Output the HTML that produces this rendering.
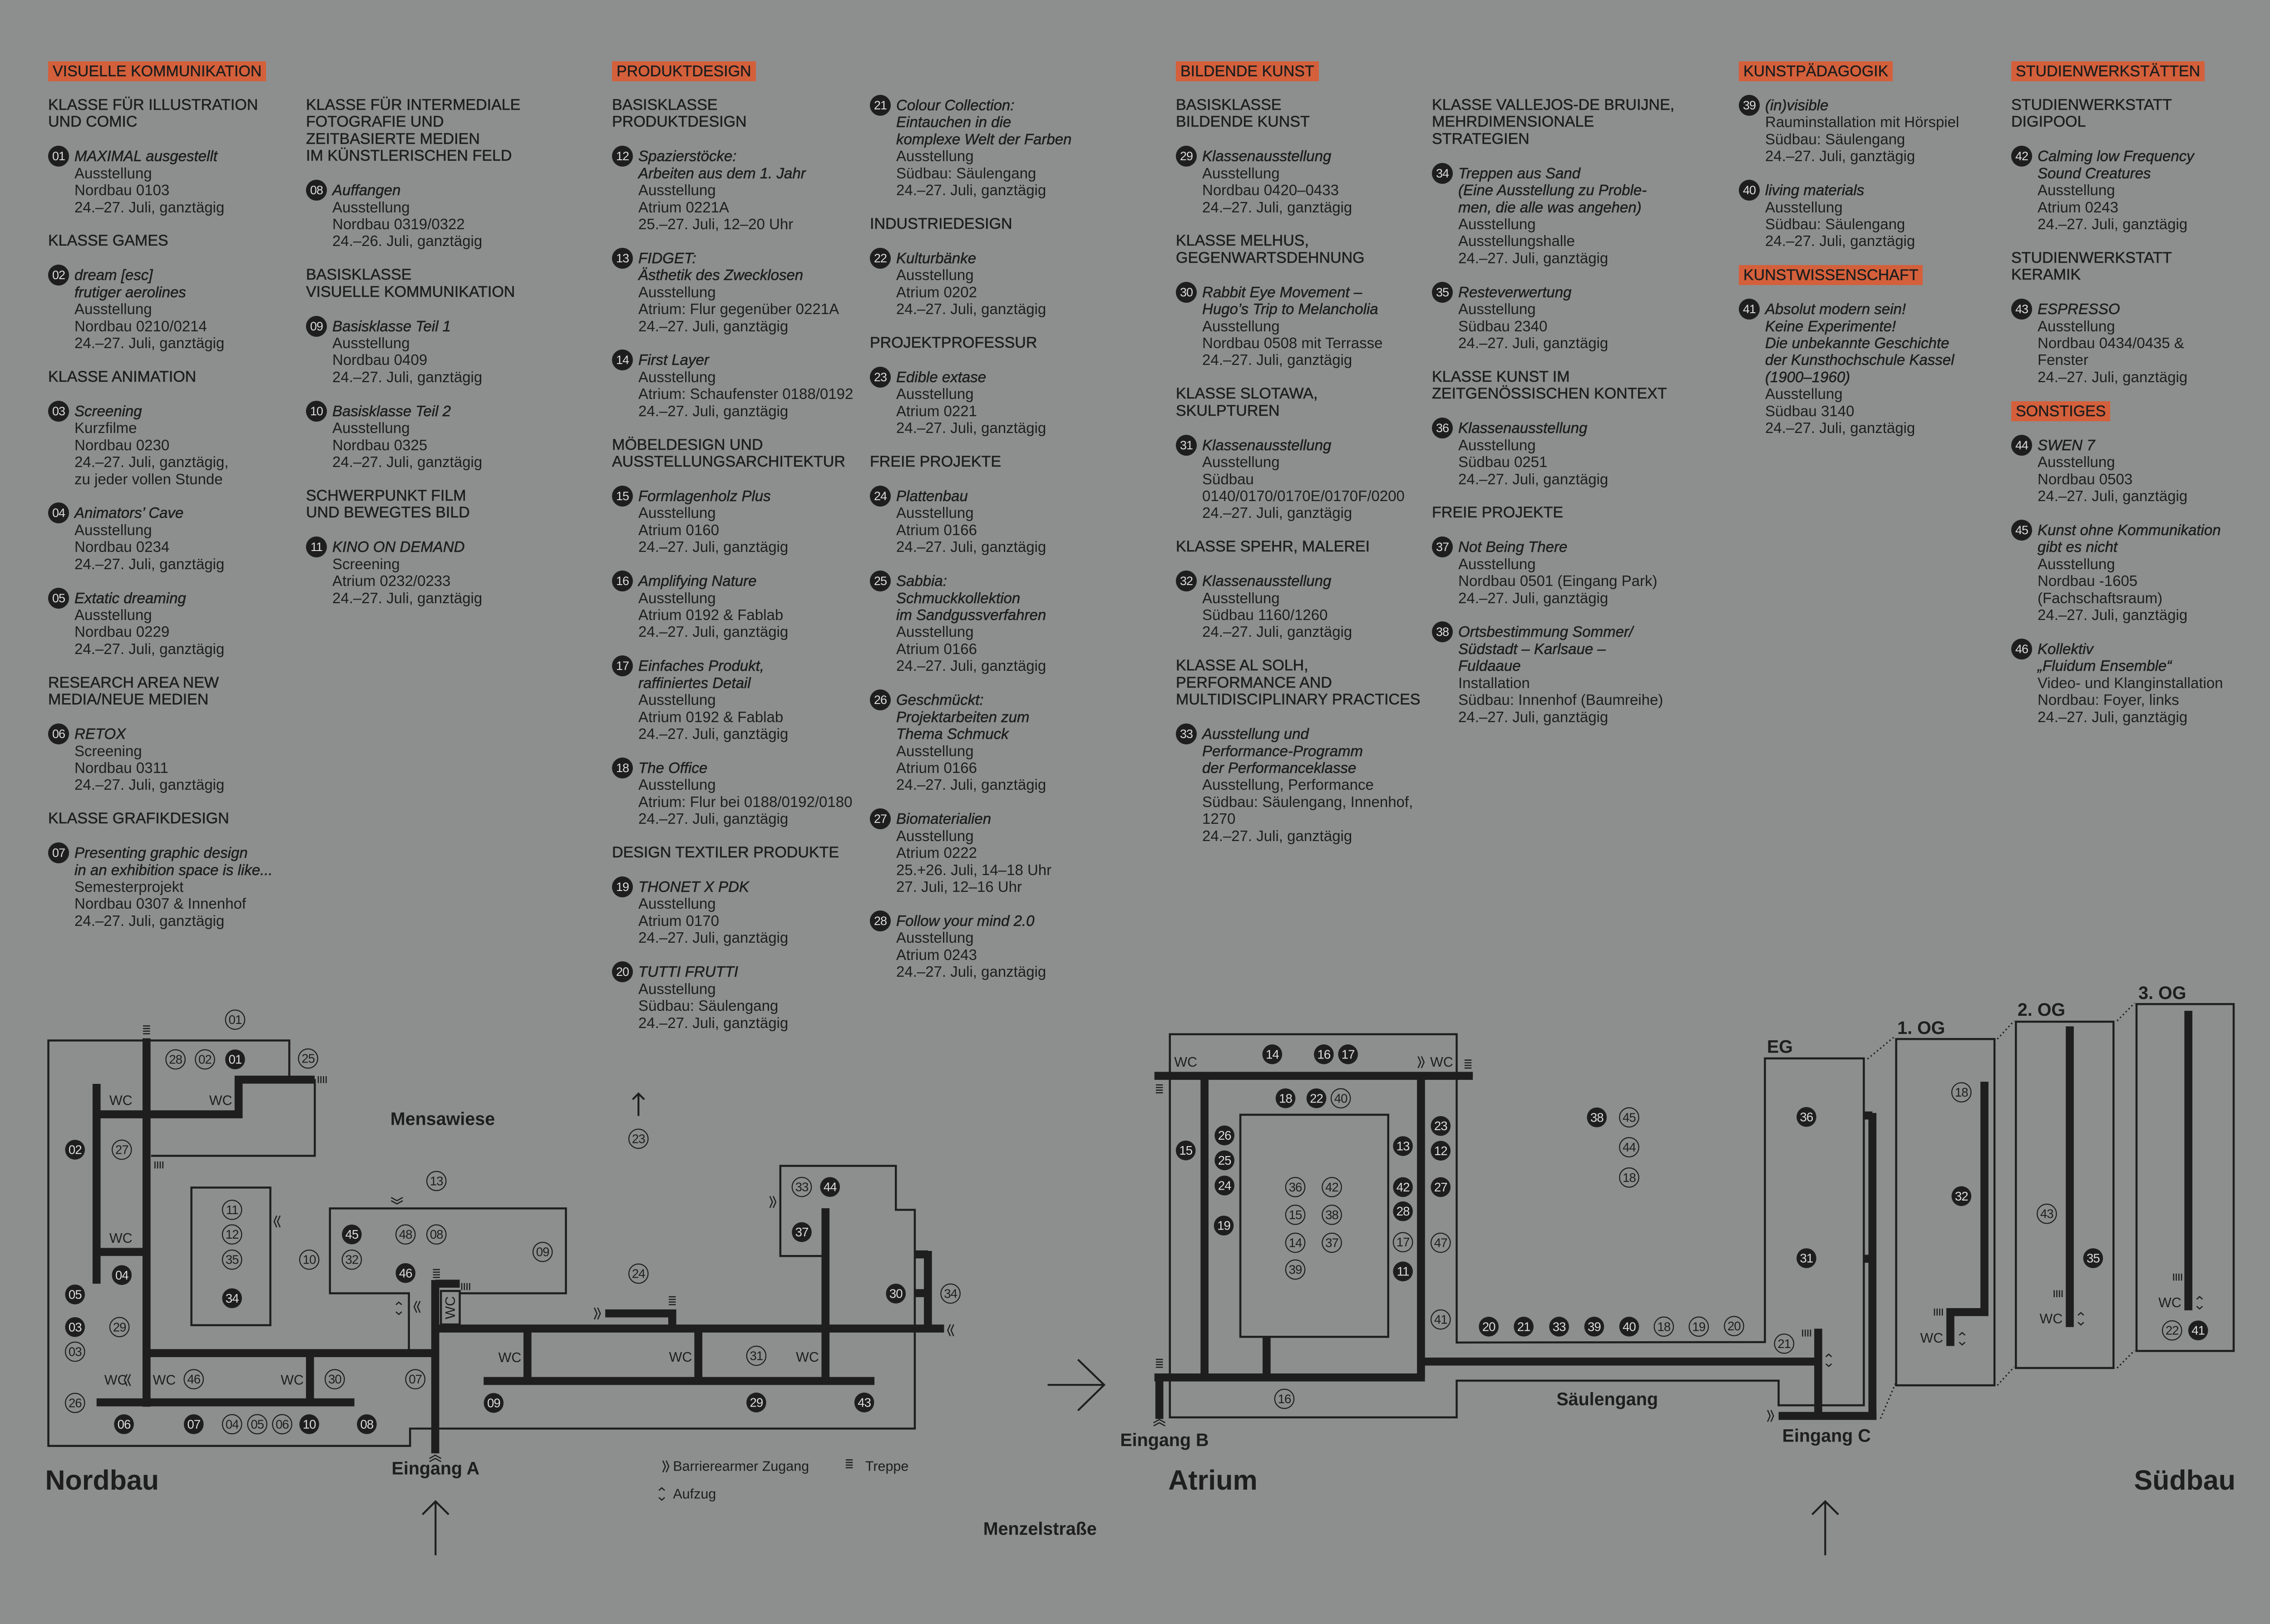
<!DOCTYPE html>
<html><head><meta charset="utf-8"><style>
html,body{margin:0;padding:0}
body{width:5031px;height:3578px;background:#8d8e8e;position:relative;overflow:hidden;font-family:"Liberation Sans",sans-serif;color:#1e1e1e}
.col{position:absolute;top:138px;font-size:33px;line-height:37.45px;white-space:nowrap}
.col>div{height:37.45px;position:relative}
.i{padding-left:58px}
.t{font-style:italic;-webkit-text-stroke:0.6px #1e1e1e}
.g{-webkit-text-stroke:0.6px #1e1e1e;font-size:34px}
.h{display:inline-block;background:#d4603b;padding:0 10px;line-height:44px;height:44px;margin-top:-3px;font-size:34px;-webkit-text-stroke:0.5px #1e1e1e}
.b{position:absolute;left:0;top:-4px;width:46px;height:46px;border-radius:50%;background:#1e1e1e;color:#dcdcdc;font-size:27px;line-height:46px;text-align:center;letter-spacing:-1px;font-style:normal;-webkit-text-stroke:0}
svg{position:absolute;left:0;top:0}
</style></head><body>

<div class="col" style="left:106px">
<div><span class="h">VISUELLE KOMMUNIKATION</span></div><div></div>
<div class="g">KLASSE FÜR ILLUSTRATION</div><div class="g">UND COMIC</div><div></div>
<div class="i t"><span class="b">01</span>MAXIMAL ausgestellt</div><div class="i">Ausstellung</div><div class="i">Nordbau 0103</div><div class="i">24.–27. Juli, ganztägig</div><div></div>
<div class="g">KLASSE GAMES</div><div></div>
<div class="i t"><span class="b">02</span>dream [esc]</div><div class="i t">frutiger aerolines</div><div class="i">Ausstellung</div><div class="i">Nordbau 0210/0214</div><div class="i">24.–27. Juli, ganztägig</div><div></div>
<div class="g">KLASSE ANIMATION</div><div></div>
<div class="i t"><span class="b">03</span>Screening</div><div class="i">Kurzfilme</div><div class="i">Nordbau 0230</div><div class="i">24.–27. Juli, ganztägig,</div><div class="i">zu jeder vollen Stunde</div><div></div>
<div class="i t"><span class="b">04</span>Animators’ Cave</div><div class="i">Ausstellung</div><div class="i">Nordbau 0234</div><div class="i">24.–27. Juli, ganztägig</div><div></div>
<div class="i t"><span class="b">05</span>Extatic dreaming</div><div class="i">Ausstellung</div><div class="i">Nordbau 0229</div><div class="i">24.–27. Juli, ganztägig</div><div></div>
<div class="g">RESEARCH AREA NEW</div><div class="g">MEDIA/NEUE MEDIEN</div><div></div>
<div class="i t"><span class="b">06</span>RETOX</div><div class="i">Screening</div><div class="i">Nordbau 0311</div><div class="i">24.–27. Juli, ganztägig</div><div></div>
<div class="g">KLASSE GRAFIKDESIGN</div><div></div>
<div class="i t"><span class="b">07</span>Presenting graphic design</div><div class="i t">in an exhibition space is like...</div><div class="i">Semesterprojekt</div><div class="i">Nordbau 0307 &amp; Innenhof</div><div class="i">24.–27. Juli, ganztägig</div>
</div>

<div class="col" style="left:674px">
<div></div><div></div>
<div class="g">KLASSE FÜR INTERMEDIALE</div><div class="g">FOTOGRAFIE UND</div><div class="g">ZEITBASIERTE MEDIEN</div><div class="g">IM KÜNSTLERISCHEN FELD</div><div></div>
<div class="i t"><span class="b">08</span>Auffangen</div><div class="i">Ausstellung</div><div class="i">Nordbau 0319/0322</div><div class="i">24.–26. Juli, ganztägig</div><div></div>
<div class="g">BASISKLASSE</div><div class="g">VISUELLE KOMMUNIKATION</div><div></div>
<div class="i t"><span class="b">09</span>Basisklasse Teil 1</div><div class="i">Ausstellung</div><div class="i">Nordbau 0409</div><div class="i">24.–27. Juli, ganztägig</div><div></div>
<div class="i t"><span class="b">10</span>Basisklasse Teil 2</div><div class="i">Ausstellung</div><div class="i">Nordbau 0325</div><div class="i">24.–27. Juli, ganztägig</div><div></div>
<div class="g">SCHWERPUNKT FILM</div><div class="g">UND BEWEGTES BILD</div><div></div>
<div class="i t"><span class="b">11</span>KINO ON DEMAND</div><div class="i">Screening</div><div class="i">Atrium 0232/0233</div><div class="i">24.–27. Juli, ganztägig</div>
</div>

<div class="col" style="left:1348px">
<div><span class="h">PRODUKTDESIGN</span></div><div></div>
<div class="g">BASISKLASSE</div><div class="g">PRODUKTDESIGN</div><div></div>
<div class="i t"><span class="b">12</span>Spazierstöcke:</div><div class="i t">Arbeiten aus dem 1. Jahr</div><div class="i">Ausstellung</div><div class="i">Atrium 0221A</div><div class="i">25.–27. Juli, 12–20 Uhr</div><div></div>
<div class="i t"><span class="b">13</span>FIDGET:</div><div class="i t">Ästhetik des Zwecklosen</div><div class="i">Ausstellung</div><div class="i">Atrium: Flur gegenüber 0221A</div><div class="i">24.–27. Juli, ganztägig</div><div></div>
<div class="i t"><span class="b">14</span>First Layer</div><div class="i">Ausstellung</div><div class="i">Atrium: Schaufenster 0188/0192</div><div class="i">24.–27. Juli, ganztägig</div><div></div>
<div class="g">MÖBELDESIGN UND</div><div class="g">AUSSTELLUNGSARCHITEKTUR</div><div></div>
<div class="i t"><span class="b">15</span>Formlagenholz Plus</div><div class="i">Ausstellung</div><div class="i">Atrium 0160</div><div class="i">24.–27. Juli, ganztägig</div><div></div>
<div class="i t"><span class="b">16</span>Amplifying Nature</div><div class="i">Ausstellung</div><div class="i">Atrium 0192 &amp; Fablab</div><div class="i">24.–27. Juli, ganztägig</div><div></div>
<div class="i t"><span class="b">17</span>Einfaches Produkt,</div><div class="i t">raffiniertes Detail</div><div class="i">Ausstellung</div><div class="i">Atrium 0192 &amp; Fablab</div><div class="i">24.–27. Juli, ganztägig</div><div></div>
<div class="i t"><span class="b">18</span>The Office</div><div class="i">Ausstellung</div><div class="i">Atrium: Flur bei 0188/0192/0180</div><div class="i">24.–27. Juli, ganztägig</div><div></div>
<div class="g">DESIGN TEXTILER PRODUKTE</div><div></div>
<div class="i t"><span class="b">19</span>THONET X PDK</div><div class="i">Ausstellung</div><div class="i">Atrium 0170</div><div class="i">24.–27. Juli, ganztägig</div><div></div>
<div class="i t"><span class="b">20</span>TUTTI FRUTTI</div><div class="i">Ausstellung</div><div class="i">Südbau: Säulengang</div><div class="i">24.–27. Juli, ganztägig</div>
</div>

<div class="col" style="left:1916px">
<div></div><div></div>
<div class="i t"><span class="b">21</span>Colour Collection:</div><div class="i t">Eintauchen in die</div><div class="i t">komplexe Welt der Farben</div><div class="i">Ausstellung</div><div class="i">Südbau: Säulengang</div><div class="i">24.–27. Juli, ganztägig</div><div></div>
<div class="g">INDUSTRIEDESIGN</div><div></div>
<div class="i t"><span class="b">22</span>Kulturbänke</div><div class="i">Ausstellung</div><div class="i">Atrium 0202</div><div class="i">24.–27. Juli, ganztägig</div><div></div>
<div class="g">PROJEKTPROFESSUR</div><div></div>
<div class="i t"><span class="b">23</span>Edible extase</div><div class="i">Ausstellung</div><div class="i">Atrium 0221</div><div class="i">24.–27. Juli, ganztägig</div><div></div>
<div class="g">FREIE PROJEKTE</div><div></div>
<div class="i t"><span class="b">24</span>Plattenbau</div><div class="i">Ausstellung</div><div class="i">Atrium 0166</div><div class="i">24.–27. Juli, ganztägig</div><div></div>
<div class="i t"><span class="b">25</span>Sabbia:</div><div class="i t">Schmuckkollektion</div><div class="i t">im Sandgussverfahren</div><div class="i">Ausstellung</div><div class="i">Atrium 0166</div><div class="i">24.–27. Juli, ganztägig</div><div></div>
<div class="i t"><span class="b">26</span>Geschmückt:</div><div class="i t">Projektarbeiten zum</div><div class="i t">Thema Schmuck</div><div class="i">Ausstellung</div><div class="i">Atrium 0166</div><div class="i">24.–27. Juli, ganztägig</div><div></div>
<div class="i t"><span class="b">27</span>Biomaterialien</div><div class="i">Ausstellung</div><div class="i">Atrium 0222</div><div class="i">25.+26. Juli, 14–18 Uhr</div><div class="i">27. Juli, 12–16 Uhr</div><div></div>
<div class="i t"><span class="b">28</span>Follow your mind 2.0</div><div class="i">Ausstellung</div><div class="i">Atrium 0243</div><div class="i">24.–27. Juli, ganztägig</div>
</div>

<div class="col" style="left:2590px">
<div><span class="h">BILDENDE KUNST</span></div><div></div>
<div class="g">BASISKLASSE</div><div class="g">BILDENDE KUNST</div><div></div>
<div class="i t"><span class="b">29</span>Klassenausstellung</div><div class="i">Ausstellung</div><div class="i">Nordbau 0420–0433</div><div class="i">24.–27. Juli, ganztägig</div><div></div>
<div class="g">KLASSE MELHUS,</div><div class="g">GEGENWARTSDEHNUNG</div><div></div>
<div class="i t"><span class="b">30</span>Rabbit Eye Movement –</div><div class="i t">Hugo’s Trip to Melancholia</div><div class="i">Ausstellung</div><div class="i">Nordbau 0508 mit Terrasse</div><div class="i">24.–27. Juli, ganztägig</div><div></div>
<div class="g">KLASSE SLOTAWA,</div><div class="g">SKULPTUREN</div><div></div>
<div class="i t"><span class="b">31</span>Klassenausstellung</div><div class="i">Ausstellung</div><div class="i">Südbau</div><div class="i">0140/0170/0170E/0170F/0200</div><div class="i">24.–27. Juli, ganztägig</div><div></div>
<div class="g">KLASSE SPEHR, MALEREI</div><div></div>
<div class="i t"><span class="b">32</span>Klassenausstellung</div><div class="i">Ausstellung</div><div class="i">Südbau 1160/1260</div><div class="i">24.–27. Juli, ganztägig</div><div></div>
<div class="g">KLASSE AL SOLH,</div><div class="g">PERFORMANCE AND</div><div class="g">MULTIDISCIPLINARY PRACTICES</div><div></div>
<div class="i t"><span class="b">33</span>Ausstellung und</div><div class="i t">Performance-Programm</div><div class="i t">der Performanceklasse</div><div class="i">Ausstellung, Performance</div><div class="i">Südbau: Säulengang, Innenhof,</div><div class="i">1270</div><div class="i">24.–27. Juli, ganztägig</div>
</div>

<div class="col" style="left:3154px">
<div></div><div></div>
<div class="g">KLASSE VALLEJOS-DE BRUIJNE,</div><div class="g">MEHRDIMENSIONALE</div><div class="g">STRATEGIEN</div><div></div>
<div class="i t"><span class="b">34</span>Treppen aus Sand</div><div class="i t">(Eine Ausstellung zu Proble-</div><div class="i t">men, die alle was angehen)</div><div class="i">Ausstellung</div><div class="i">Ausstellungshalle</div><div class="i">24.–27. Juli, ganztägig</div><div></div>
<div class="i t"><span class="b">35</span>Resteverwertung</div><div class="i">Ausstellung</div><div class="i">Südbau 2340</div><div class="i">24.–27. Juli, ganztägig</div><div></div>
<div class="g">KLASSE KUNST IM</div><div class="g">ZEITGENÖSSISCHEN KONTEXT</div><div></div>
<div class="i t"><span class="b">36</span>Klassenausstellung</div><div class="i">Ausstellung</div><div class="i">Südbau 0251</div><div class="i">24.–27. Juli, ganztägig</div><div></div>
<div class="g">FREIE PROJEKTE</div><div></div>
<div class="i t"><span class="b">37</span>Not Being There</div><div class="i">Ausstellung</div><div class="i">Nordbau 0501 (Eingang Park)</div><div class="i">24.–27. Juli, ganztägig</div><div></div>
<div class="i t"><span class="b">38</span>Ortsbestimmung Sommer/</div><div class="i t">Südstadt – Karlsaue –</div><div class="i t">Fuldaaue</div><div class="i">Installation</div><div class="i">Südbau: Innenhof (Baumreihe)</div><div class="i">24.–27. Juli, ganztägig</div>
</div>

<div class="col" style="left:3830px">
<div><span class="h">KUNSTPÄDAGOGIK</span></div><div></div>
<div class="i t"><span class="b">39</span>(in)visible</div><div class="i">Rauminstallation mit Hörspiel</div><div class="i">Südbau: Säulengang</div><div class="i">24.–27. Juli, ganztägig</div><div></div>
<div class="i t"><span class="b">40</span>living materials</div><div class="i">Ausstellung</div><div class="i">Südbau: Säulengang</div><div class="i">24.–27. Juli, ganztägig</div><div></div>
<div><span class="h">KUNSTWISSENSCHAFT</span></div><div></div>
<div class="i t"><span class="b">41</span>Absolut modern sein!</div><div class="i t">Keine Experimente!</div><div class="i t">Die unbekannte Geschichte</div><div class="i t">der Kunsthochschule Kassel</div><div class="i t">(1900–1960)</div><div class="i">Ausstellung</div><div class="i">Südbau 3140</div><div class="i">24.–27. Juli, ganztägig</div>
</div>

<div class="col" style="left:4430px">
<div><span class="h">STUDIENWERKSTÄTTEN</span></div><div></div>
<div class="g">STUDIENWERKSTATT</div><div class="g">DIGIPOOL</div><div></div>
<div class="i t"><span class="b">42</span>Calming low Frequency</div><div class="i t">Sound Creatures</div><div class="i">Ausstellung</div><div class="i">Atrium 0243</div><div class="i">24.–27. Juli, ganztägig</div><div></div>
<div class="g">STUDIENWERKSTATT</div><div class="g">KERAMIK</div><div></div>
<div class="i t"><span class="b">43</span>ESPRESSO</div><div class="i">Ausstellung</div><div class="i">Nordbau 0434/0435 &amp;</div><div class="i">Fenster</div><div class="i">24.–27. Juli, ganztägig</div><div></div>
<div><span class="h">SONSTIGES</span></div><div></div>
<div class="i t"><span class="b">44</span>SWEN 7</div><div class="i">Ausstellung</div><div class="i">Nordbau 0503</div><div class="i">24.–27. Juli, ganztägig</div><div></div>
<div class="i t"><span class="b">45</span>Kunst ohne Kommunikation</div><div class="i t">gibt es nicht</div><div class="i">Ausstellung</div><div class="i">Nordbau -1605</div><div class="i">(Fachschaftsraum)</div><div class="i">24.–27. Juli, ganztägig</div><div></div>
<div class="i t"><span class="b">46</span>Kollektiv</div><div class="i t">„Fluidum Ensemble“</div><div class="i">Video- und Klanginstallation</div><div class="i">Nordbau: Foyer, links</div><div class="i">24.–27. Juli, ganztägig</div>
</div>

<svg width="5031" height="3578" viewBox="0 0 1568 1115.2" preserveAspectRatio="none">
<style>
.t{fill:none;stroke:#1e1e1e;stroke-width:1.4}
.k{fill:none;stroke:#1e1e1e;stroke-width:5.5}
.d{fill:none;stroke:#1e1e1e;stroke-width:1;stroke-dasharray:1 1.8}
.s{fill:none;stroke:#1e1e1e;stroke-width:0.8}
.a{fill:none;stroke:#1e1e1e;stroke-width:1.3}
.f{fill:#1e1e1e}
.o{fill:none;stroke:#1e1e1e;stroke-width:0.7}
text{font-family:"Liberation Sans",sans-serif;fill:#1e1e1e}
.n{font-size:8.6px;text-anchor:middle;dominant-baseline:central;letter-spacing:-0.3px}
.w{fill:#dcdcdc}
.wc{font-size:9.5px;text-anchor:middle;dominant-baseline:central}
.L{font-weight:bold;font-size:19px}
.M{font-weight:bold;font-size:12.3px}
.sm{font-size:9.5px}
</style>

<polyline class="t" points="198.6,741 198.6,714.5 33.2,714.5 33.2,992.9 281.5,992.9 281.5,981 628,981 628,830.8 615,830.8 615,800.6 535.7,800.6 535.7,862.5 566.7,862.5"/>
<polyline class="t" points="216.1,741 216.1,793.7 103.7,793.7"/>
<rect class="t" x="131.4" y="815.5" width="54.2" height="94.5"/>
<polyline class="t" points="280.7,927 280.7,888.1 226.5,888.1 226.5,829.8 388.5,829.8 388.5,888.1 315.6,888.1"/>
<rect class="t" x="302.7" y="886.5" width="12.9" height="23"/>
<polygon class="t" points="1000,921.9 1000,710.2 803.1,710.2 803.1,973.3 1000,973.3 1000,948.1 1221,948.1 1221,965 1279.5,965 1279.5,726.8 1211.6,726.8 1211.6,921.6"/>
<rect class="t" x="851.5" y="765.5" width="101.5" height="152.5"/>
<rect class="t" x="1301.7" y="713.5" width="67.5" height="237.8"/>
<rect class="t" x="1383.9" y="701.6" width="67" height="237.8"/>
<rect class="t" x="1466.7" y="689.5" width="66.7" height="238.2"/>
<line class="d" x1="1282" y1="727.2" x2="1299.9" y2="712.4"/>
<line class="d" x1="1291" y1="974.1" x2="1301.2" y2="950.1"/>
<line class="d" x1="1371.2" y1="713.5" x2="1382.7" y2="701"/>
<line class="d" x1="1371.2" y1="951.3" x2="1382.7" y2="938.7"/>
<line class="d" x1="1453.4" y1="701" x2="1465.4" y2="688.8"/>
<line class="d" x1="1453.4" y1="939.4" x2="1465.4" y2="927.3"/>

<line class="k" x1="100.6" y1="713" x2="100.6" y2="966"/>
<polyline class="k" points="66.3,765.2 163.8,765.2 163.8,741.4 216,741.4"/>
<line class="k" x1="66.3" y1="744.3" x2="66.3" y2="881.5"/>
<line class="k" x1="66.3" y1="859.7" x2="100.6" y2="859.7"/>
<line class="k" x1="100.6" y1="929.2" x2="298.8" y2="929.2"/>
<line class="k" x1="298.8" y1="879" x2="298.8" y2="998"/>
<line class="k" x1="298.8" y1="881.5" x2="315.6" y2="881.5"/>
<line class="k" x1="66.3" y1="963" x2="243.3" y2="963"/>
<line class="k" x1="212.8" y1="929.2" x2="212.8" y2="963"/>
<line class="k" x1="298.8" y1="912.3" x2="648.1" y2="912.3"/>
<line class="k" x1="362.1" y1="912.3" x2="362.1" y2="948.3"/>
<line class="k" x1="332" y1="948.3" x2="600.3" y2="948.3"/>
<line class="k" x1="479.4" y1="912.3" x2="479.4" y2="948.3"/>
<line class="k" x1="566.7" y1="829.7" x2="566.7" y2="948.3"/>
<polyline class="k" points="415.5,901.9 461.5,901.9 461.5,912"/>
<line class="k" x1="637" y1="859" x2="637" y2="912.3"/>
<line class="k" x1="628" y1="861.4" x2="637" y2="861.4"/>
<line class="k" x1="628" y1="888" x2="637" y2="888"/>

<line class="k" x1="792.5" y1="738.8" x2="1011.1" y2="738.8"/>
<line class="k" x1="826.9" y1="738.8" x2="826.9" y2="945.9"/>
<line class="k" x1="975.5" y1="738.8" x2="975.5" y2="945.9"/>
<line class="k" x1="792.5" y1="945.9" x2="978.2" y2="945.9"/>
<line class="k" x1="795.9" y1="945.9" x2="795.9" y2="974.4"/>
<line class="k" x1="869.5" y1="918" x2="869.5" y2="945.9"/>
<line class="k" x1="975.5" y1="935" x2="1248.2" y2="935"/>
<line class="k" x1="1248.2" y1="912.4" x2="1248.2" y2="974.1"/>
<line class="k" x1="1221" y1="972.3" x2="1288.2" y2="972.3"/>
<line class="k" x1="1285.4" y1="764.3" x2="1285.4" y2="975"/>
<line class="k" x1="1279.5" y1="766" x2="1285.4" y2="766"/>
<line class="k" x1="1279.5" y1="864.4" x2="1285.4" y2="864.4"/>
<polyline class="k" points="1362.3,742.8 1362.3,901 1338.9,901 1338.9,924.3"/>
<line class="k" x1="1420.9" y1="704.8" x2="1420.9" y2="911.3"/>
<line class="k" x1="1502.3" y1="694.1" x2="1502.3" y2="899.8"/>

<path class="s" d="M98.2,704.5h4.8M98.2,706.3h4.8M98.2,708.1h4.8M98.2,709.9h4.8
M297.2,871.8h4.8M297.2,873.6h4.8M297.2,875.4h4.8M297.2,877.2h4.8
M459.1,890.5h4.8M459.1,892.3h4.8M459.1,894.1h4.8M459.1,895.9h4.8
M793.5,745h4.8M793.5,746.8h4.8M793.5,748.6h4.8M793.5,750.4h4.8
M1005.4,728h4.8M1005.4,729.8h4.8M1005.4,731.6h4.8M1005.4,733.4h4.8
M793.5,933.5h4.8M793.5,935.3h4.8M793.5,937.1h4.8M793.5,938.9h4.8
M580.6,1002.5h4.8M580.6,1004.3h4.8M580.6,1006.1h4.8M580.6,1007.9h4.8"/>
<path class="s" d="M218.5,739v4.8M220.3,739v4.8M222.1,739v4.8M223.9,739v4.8
M106.4,797.6v4.8M108.2,797.6v4.8M110,797.6v4.8M111.8,797.6v4.8
M317,881.1v4.8M318.8,881.1v4.8M320.6,881.1v4.8M322.4,881.1v4.8
M1237.5,913v4.8M1239.3,913v4.8M1241.1,913v4.8M1242.9,913v4.8
M1328,898.6v4.8M1329.8,898.6v4.8M1331.6,898.6v4.8M1333.4,898.6v4.8
M1410.2,886v4.8M1412,886v4.8M1413.8,886v4.8M1415.6,886v4.8
M1492.2,874.6v4.8M1494,874.6v4.8M1495.8,874.6v4.8M1497.6,874.6v4.8"/>
<path class="s" d="M271.8,896l2,-1.8l2,1.8M271.8,900.8l2,1.8l2,-1.8
M1253.4,931.7l2,-1.8l2,1.8M1253.4,936.5l2,1.8l2,-1.8
M1345,916.9l2,-1.8l2,1.8M1345,921.7l2,1.8l2,-1.8
M1426.5,903.2l2,-1.8l2,1.8M1426.5,908l2,1.8l2,-1.8
M1508,892.2l2,-1.8l2,1.8M1508,897l2,1.8l2,-1.8
M452.3,1023.5l2,-1.8l2,1.8M452.3,1028.3l2,1.8l2,-1.8"/>
<path class="s" d="M268.5,822.3l4,2.2l4,-2.2M268.5,824.5l4,2.2l4,-2.2
M294.8,1001.5l4,-2.2l4,2.2M294.8,1003.7l4,-2.2l4,2.2
M791.9,977l4,-2.2l4,2.2M791.9,979.2l4,-2.2l4,2.2"/>
<path class="s" d="M408,898l1.8,4l-1.8,4M410.3,898l1.8,4l-1.8,4
M528.5,821.4l1.8,4l-1.8,4M530.8,821.4l1.8,4l-1.8,4
M973.5,725.4l1.8,4l-1.8,4M975.8,725.4l1.8,4l-1.8,4
M1213.4,968.3l1.8,4l-1.8,4M1215.7,968.3l1.8,4l-1.8,4
M455,1003l1.8,4l-1.8,4M457.3,1003l1.8,4l-1.8,4
M192.3,834.8l-1.8,4l1.8,4M190,834.8l-1.8,4l1.8,4
M288.4,893.4l-1.8,4l1.8,4M286.1,893.4l-1.8,4l1.8,4
M89.5,943.7l-1.8,4l1.8,4M87.2,943.7l-1.8,4l1.8,4
M654.7,909.5l-1.8,4l1.8,4M652.4,909.5l-1.8,4l1.8,4"/>

<path class="a" d="M438.3,766.3V751M434.3,755l4,-4l4,4"/>
<path class="a" d="M299,1068V1031M290,1040l9,-9l9,9"/>
<path class="a" d="M1253,1068V1031M1244,1040l9,-9l9,9"/>
<path class="a" d="M719.2,951H758M740,933.6l18,17.4l-18,17.6"/>

<g>
<text class="wc" x="83" y="755.7">WC</text><text class="wc" x="151.5" y="755.7">WC</text><text class="wc" x="83" y="850.3">WC</text>
<text class="wc" x="79.5" y="947.7">WC</text><text class="wc" x="112.8" y="947.7">WC</text><text class="wc" x="200.6" y="947.7">WC</text>
<text class="wc" x="350" y="932.2">WC</text><text class="wc" x="467.2" y="931.9">WC</text><text class="wc" x="554.3" y="931.9">WC</text>
<text class="wc" x="814" y="729.4">WC</text><text class="wc" x="989.7" y="729.4">WC</text>
<text class="wc" x="1326.1" y="918.8">WC</text><text class="wc" x="1408.1" y="905.6">WC</text><text class="wc" x="1489.6" y="894.6">WC</text>
<text class="wc" x="0" y="0" transform="translate(309.2,898) rotate(-90)">WC</text>
</g>

<text class="L" x="31" y="1023">Nordbau</text>
<text class="L" x="802" y="1023">Atrium</text>
<text class="L" x="1465" y="1023">Südbau</text>
<text class="M" x="299" y="1012.5" text-anchor="middle">Eingang A</text>
<text class="M" x="769" y="993">Eingang B</text>
<text class="M" x="1223.5" y="990">Eingang C</text>
<text class="M" x="268" y="772.5">Mensawiese</text>
<text class="M" x="1068.5" y="965">Säulengang</text>
<text class="M" x="675" y="1054">Menzelstraße</text>
<text class="M" x="1213" y="723">EG</text>
<text class="M" x="1302.5" y="710">1. OG</text>
<text class="M" x="1385" y="697.5">2. OG</text>
<text class="M" x="1468" y="686">3. OG</text>
<text class="sm" x="462" y="1010">Barrierearmer Zugang</text>
<text class="sm" x="594" y="1010">Treppe</text>
<text class="sm" x="462" y="1029">Aufzug</text>

<g>
<circle class="f" cx="161.4" cy="727.5" r="6.8"/><text class="n w" x="161.4" y="727.5">01</text>
<circle class="f" cx="51.5" cy="789.5" r="6.8"/><text class="n w" x="51.5" y="789.5">02</text>
<circle class="f" cx="159.3" cy="891.5" r="6.8"/><text class="n w" x="159.3" y="891.5">34</text>
<circle class="f" cx="241.5" cy="847.7" r="6.8"/><text class="n w" x="241.5" y="847.7">45</text>
<circle class="f" cx="278.4" cy="874.2" r="6.8"/><text class="n w" x="278.4" y="874.2">46</text>
<circle class="f" cx="83.6" cy="875.6" r="6.8"/><text class="n w" x="83.6" y="875.6">04</text>
<circle class="f" cx="51.5" cy="888.9" r="6.8"/><text class="n w" x="51.5" y="888.9">05</text>
<circle class="f" cx="51.5" cy="911.3" r="6.8"/><text class="n w" x="51.5" y="911.3">03</text>
<circle class="f" cx="85.1" cy="978" r="6.8"/><text class="n w" x="85.1" y="978">06</text>
<circle class="f" cx="133" cy="978" r="6.8"/><text class="n w" x="133" y="978">07</text>
<circle class="f" cx="212.3" cy="978" r="6.8"/><text class="n w" x="212.3" y="978">10</text>
<circle class="f" cx="251.8" cy="978" r="6.8"/><text class="n w" x="251.8" y="978">08</text>
<circle class="f" cx="338.9" cy="963.4" r="6.8"/><text class="n w" x="338.9" y="963.4">09</text>
<circle class="f" cx="569.8" cy="815.1" r="6.8"/><text class="n w" x="569.8" y="815.1">44</text>
<circle class="f" cx="550.4" cy="846.1" r="6.8"/><text class="n w" x="550.4" y="846.1">37</text>
<circle class="f" cx="615" cy="888.3" r="6.8"/><text class="n w" x="615" y="888.3">30</text>
<circle class="f" cx="519.2" cy="963.1" r="6.8"/><text class="n w" x="519.2" y="963.1">29</text>
<circle class="f" cx="593.3" cy="963.1" r="6.8"/><text class="n w" x="593.3" y="963.1">43</text>
<circle class="f" cx="873.4" cy="724" r="6.8"/><text class="n w" x="873.4" y="724">14</text>
<circle class="f" cx="908.8" cy="724" r="6.8"/><text class="n w" x="908.8" y="724">16</text>
<circle class="f" cx="925.4" cy="724" r="6.8"/><text class="n w" x="925.4" y="724">17</text>
<circle class="f" cx="882.5" cy="754.2" r="6.8"/><text class="n w" x="882.5" y="754.2">18</text>
<circle class="f" cx="903.7" cy="754.2" r="6.8"/><text class="n w" x="903.7" y="754.2">22</text>
<circle class="f" cx="814" cy="790" r="6.8"/><text class="n w" x="814" y="790">15</text>
<circle class="f" cx="840.6" cy="779.7" r="6.8"/><text class="n w" x="840.6" y="779.7">26</text>
<circle class="f" cx="840.6" cy="796.8" r="6.8"/><text class="n w" x="840.6" y="796.8">25</text>
<circle class="f" cx="840.6" cy="814.1" r="6.8"/><text class="n w" x="840.6" y="814.1">24</text>
<circle class="f" cx="840.1" cy="841.6" r="6.8"/><text class="n w" x="840.1" y="841.6">19</text>
<circle class="f" cx="963.1" cy="787" r="6.8"/><text class="n w" x="963.1" y="787">13</text>
<circle class="f" cx="963.1" cy="815.2" r="6.8"/><text class="n w" x="963.1" y="815.2">42</text>
<circle class="f" cx="963.1" cy="831.8" r="6.8"/><text class="n w" x="963.1" y="831.8">28</text>
<circle class="f" cx="963.1" cy="873.1" r="6.8"/><text class="n w" x="963.1" y="873.1">11</text>
<circle class="f" cx="989" cy="773.2" r="6.8"/><text class="n w" x="989" y="773.2">23</text>
<circle class="f" cx="989" cy="790.2" r="6.8"/><text class="n w" x="989" y="790.2">12</text>
<circle class="f" cx="989" cy="815.2" r="6.8"/><text class="n w" x="989" y="815.2">27</text>
<circle class="f" cx="1096.2" cy="767.3" r="6.8"/><text class="n w" x="1096.2" y="767.3">38</text>
<circle class="f" cx="1022" cy="911" r="6.8"/><text class="n w" x="1022" y="911">20</text>
<circle class="f" cx="1046" cy="911" r="6.8"/><text class="n w" x="1046" y="911">21</text>
<circle class="f" cx="1070.3" cy="911" r="6.8"/><text class="n w" x="1070.3" y="911">33</text>
<circle class="f" cx="1094.4" cy="911" r="6.8"/><text class="n w" x="1094.4" y="911">39</text>
<circle class="f" cx="1118.4" cy="911" r="6.8"/><text class="n w" x="1118.4" y="911">40</text>
<circle class="f" cx="1240.1" cy="767" r="6.8"/><text class="n w" x="1240.1" y="767">36</text>
<circle class="f" cx="1240.1" cy="864" r="6.8"/><text class="n w" x="1240.1" y="864">31</text>
<circle class="f" cx="1346.5" cy="821.4" r="6.8"/><text class="n w" x="1346.5" y="821.4">32</text>
<circle class="f" cx="1436.9" cy="864" r="6.8"/><text class="n w" x="1436.9" y="864">35</text>
<circle class="f" cx="1509" cy="913.6" r="6.8"/><text class="n w" x="1509" y="913.6">41</text>
</g>

<g>
<circle class="o" cx="161.4" cy="700.2" r="6.6"/><text class="n" x="161.4" y="700.2">01</text>
<circle class="o" cx="120.5" cy="727.5" r="6.6"/><text class="n" x="120.5" y="727.5">28</text>
<circle class="o" cx="140.7" cy="727.5" r="6.6"/><text class="n" x="140.7" y="727.5">02</text>
<circle class="o" cx="211.5" cy="726.9" r="6.6"/><text class="n" x="211.5" y="726.9">25</text>
<circle class="o" cx="83.6" cy="789.5" r="6.6"/><text class="n" x="83.6" y="789.5">27</text>
<circle class="o" cx="159.3" cy="830.8" r="6.6"/><text class="n" x="159.3" y="830.8">11</text>
<circle class="o" cx="159.3" cy="847.7" r="6.6"/><text class="n" x="159.3" y="847.7">12</text>
<circle class="o" cx="159.3" cy="865" r="6.6"/><text class="n" x="159.3" y="865">35</text>
<circle class="o" cx="299.6" cy="811" r="6.6"/><text class="n" x="299.6" y="811">13</text>
<circle class="o" cx="278.4" cy="847.7" r="6.6"/><text class="n" x="278.4" y="847.7">48</text>
<circle class="o" cx="299.6" cy="847.7" r="6.6"/><text class="n" x="299.6" y="847.7">08</text>
<circle class="o" cx="372.5" cy="859.7" r="6.6"/><text class="n" x="372.5" y="859.7">09</text>
<circle class="o" cx="241.5" cy="865" r="6.6"/><text class="n" x="241.5" y="865">32</text>
<circle class="o" cx="212.3" cy="865" r="6.6"/><text class="n" x="212.3" y="865">10</text>
<circle class="o" cx="82" cy="911.3" r="6.6"/><text class="n" x="82" y="911.3">29</text>
<circle class="o" cx="51.5" cy="928.2" r="6.6"/><text class="n" x="51.5" y="928.2">03</text>
<circle class="o" cx="133" cy="947.1" r="6.6"/><text class="n" x="133" y="947.1">46</text>
<circle class="o" cx="229.8" cy="947.1" r="6.6"/><text class="n" x="229.8" y="947.1">30</text>
<circle class="o" cx="285.1" cy="947.1" r="6.6"/><text class="n" x="285.1" y="947.1">07</text>
<circle class="o" cx="51.5" cy="963.4" r="6.6"/><text class="n" x="51.5" y="963.4">26</text>
<circle class="o" cx="159.3" cy="978" r="6.6"/><text class="n" x="159.3" y="978">04</text>
<circle class="o" cx="176.6" cy="978" r="6.6"/><text class="n" x="176.6" y="978">05</text>
<circle class="o" cx="193.7" cy="978" r="6.6"/><text class="n" x="193.7" y="978">06</text>
<circle class="o" cx="438.3" cy="782" r="6.6"/><text class="n" x="438.3" y="782">23</text>
<circle class="o" cx="438.3" cy="874.6" r="6.6"/><text class="n" x="438.3" y="874.6">24</text>
<circle class="o" cx="550.4" cy="815.1" r="6.6"/><text class="n" x="550.4" y="815.1">33</text>
<circle class="o" cx="652.5" cy="888.3" r="6.6"/><text class="n" x="652.5" y="888.3">34</text>
<circle class="o" cx="519.2" cy="931" r="6.6"/><text class="n" x="519.2" y="931">31</text>
<circle class="o" cx="920.4" cy="754.2" r="6.6"/><text class="n" x="920.4" y="754.2">40</text>
<circle class="o" cx="889.2" cy="815.2" r="6.6"/><text class="n" x="889.2" y="815.2">36</text>
<circle class="o" cx="914.3" cy="815.2" r="6.6"/><text class="n" x="914.3" y="815.2">42</text>
<circle class="o" cx="889.2" cy="834.2" r="6.6"/><text class="n" x="889.2" y="834.2">15</text>
<circle class="o" cx="914.3" cy="834.2" r="6.6"/><text class="n" x="914.3" y="834.2">38</text>
<circle class="o" cx="889.2" cy="853.4" r="6.6"/><text class="n" x="889.2" y="853.4">14</text>
<circle class="o" cx="914.3" cy="853.4" r="6.6"/><text class="n" x="914.3" y="853.4">37</text>
<circle class="o" cx="889.2" cy="871.8" r="6.6"/><text class="n" x="889.2" y="871.8">39</text>
<circle class="o" cx="963.1" cy="853" r="6.6"/><text class="n" x="963.1" y="853">17</text>
<circle class="o" cx="989" cy="853.4" r="6.6"/><text class="n" x="989" y="853.4">47</text>
<circle class="o" cx="989" cy="906.1" r="6.6"/><text class="n" x="989" y="906.1">41</text>
<circle class="o" cx="1118.4" cy="767.3" r="6.6"/><text class="n" x="1118.4" y="767.3">45</text>
<circle class="o" cx="1118.4" cy="787.8" r="6.6"/><text class="n" x="1118.4" y="787.8">44</text>
<circle class="o" cx="1118.4" cy="808.6" r="6.6"/><text class="n" x="1118.4" y="808.6">18</text>
<circle class="o" cx="1142.2" cy="911" r="6.6"/><text class="n" x="1142.2" y="911">18</text>
<circle class="o" cx="1166.2" cy="911" r="6.6"/><text class="n" x="1166.2" y="911">19</text>
<circle class="o" cx="1190.4" cy="910.6" r="6.6"/><text class="n" x="1190.4" y="910.6">20</text>
<circle class="o" cx="881.7" cy="960.6" r="6.6"/><text class="n" x="881.7" y="960.6">16</text>
<circle class="o" cx="1224.8" cy="922.7" r="6.6"/><text class="n" x="1224.8" y="922.7">21</text>
<circle class="o" cx="1346.5" cy="750.1" r="6.6"/><text class="n" x="1346.5" y="750.1">18</text>
<circle class="o" cx="1405.1" cy="833.5" r="6.6"/><text class="n" x="1405.1" y="833.5">43</text>
<circle class="o" cx="1491.1" cy="913.6" r="6.6"/><text class="n" x="1491.1" y="913.6">22</text>
</g>
</svg>
</body></html>
